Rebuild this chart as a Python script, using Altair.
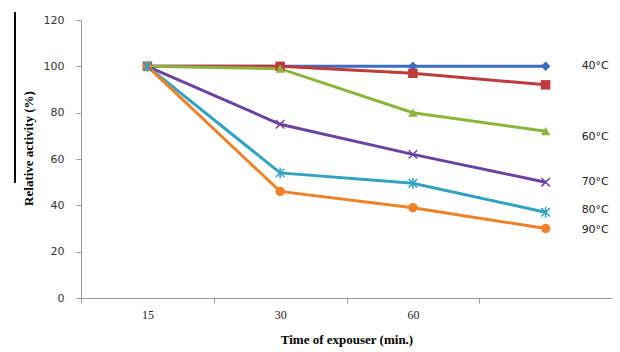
import altair as alt
import pandas as pd

times = ["15", "30", "60", "120"]
series = ["40°C", "50°C", "60°C", "70°C", "80°C", "90°C"]
v40 = [100, 100, 100, 100]
v50 = [100, 100, 97, 92]
v60 = [100, 99, 80, 72]
v70 = [100, 75, 62, 50]
v80 = [100, 54, 49.5, 37]
v90 = [100, 46, 39, 30]
colors = ["#3a6ec4", "#be3a3c", "#8db53c", "#6a43a0", "#2fa3c0", "#ef8228"]
filled_shapes = {"40°C": "diamond", "50°C": "square", "60°C": "triangle-up", "90°C": "circle"}
stroked_shapes = {"70°C": "M-1,-1L1,1M-1,1L1,-1",
                  "80°C": "M-1,-1L1,1M-1,1L1,-1M0,-1.3L0,1.3"}

label_text = ["40°C", "60°C", " 70°C", "80°C", "90°C"]
label_val = [100, 69.5, 50, 38, 29.5]

rows = []
for s, vals in zip(series, [v40, v50, v60, v70, v80, v90]):
    for t, v in zip(times, vals):
        rows.append({"time": t, "series": s, "value": v})
df = pd.DataFrame(rows)
lab = pd.DataFrame({"time": ["120"] * len(label_text), "text": label_text, "value": label_val})

xenc = alt.X("time:N", sort=times, scale=alt.Scale(paddingInner=0, paddingOuter=0),
             axis=alt.Axis(title="Time of expouser (min.)", labelExpr="datum.value == '120' ? '' : datum.value",
                           labelAngle=0, labelFont="Liberation Serif", labelFontSize=12, labelColor="#222",
                           labelPadding=6, titleFont="Liberation Serif", titleFontSize=13,
                           titleFontWeight="bold", titleColor="#000", titlePadding=13,
                           domainColor="#999", tickColor="#999", tickSize=5, tickBand="extent",
                           ticks=True, grid=False))
yenc = alt.Y("value:Q", scale=alt.Scale(domain=[0, 120]),
             axis=alt.Axis(title="Relative activity (%)", values=[0, 20, 40, 60, 80, 100, 120],
                           labelFont="DejaVu Sans", labelFontSize=11, labelColor="#333",
                           labelPadding=12, titleFont="Liberation Serif", titleFontSize=13,
                           titleFontWeight="bold", titleColor="#000", titlePadding=8, titleY=128,
                           domainColor="#999", tickColor="#999", tickSize=5, grid=False))
cenc = alt.Color("series:N", sort=series, scale=alt.Scale(domain=series, range=colors), legend=None)

layers = [alt.Chart(df).mark_line(strokeWidth=3).encode(x=xenc, y=yenc, color=cenc)]
for s, shp in filled_shapes.items():
    layers.append(alt.Chart(df).transform_filter(alt.datum.series == s).mark_point(
        filled=True, size=90, opacity=1, shape=shp).encode(x=xenc, y=yenc, color=cenc))
for s, shp in stroked_shapes.items():
    layers.append(alt.Chart(df).transform_filter(alt.datum.series == s).mark_point(
        filled=False, size=70, opacity=1, strokeWidth=1.5, shape=shp).encode(x=xenc, y=yenc, color=cenc))
layers.append(alt.Chart(lab).mark_text(align="left", baseline="middle", dx=36, font="DejaVu Sans",
                                       fontSize=11, color="#222").encode(
    x=alt.X("time:N", sort=times), y=alt.Y("value:Q"), text="text:N"))
layers.append(alt.Chart(lab).mark_rule(color="#000", strokeWidth=1).encode(
    x=alt.value(-66), y=alt.value(-8), y2=alt.value(163)))

chart = alt.layer(*layers).properties(
    width=531, height=278, padding={"left": 73, "top": 12, "right": 0, "bottom": 52},
    autosize=alt.AutoSizeParams(type="none"), background="white"
).configure_view(stroke=None)

chart.save("out.html", embed_options={"renderer": "svg", "actions": False})
